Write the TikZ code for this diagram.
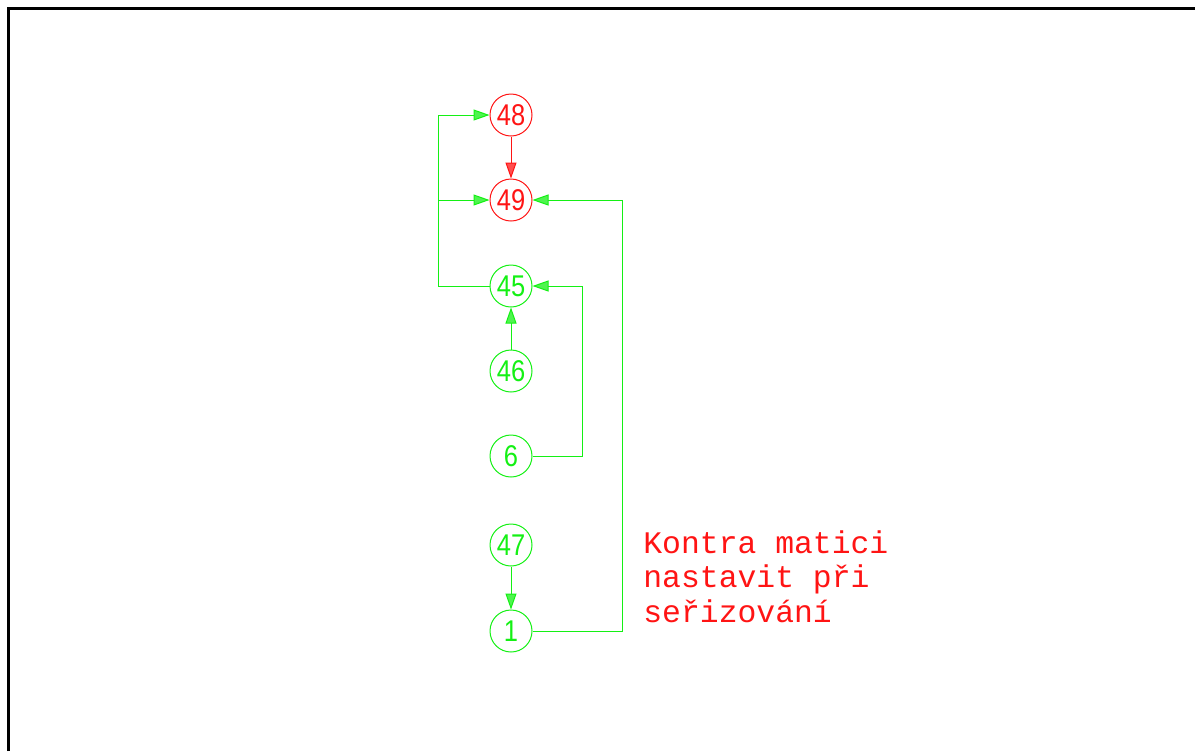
\documentclass[tikz,border=0pt]{standalone}
\usepackage{fontspec}
\setmainfont{Liberation Sans}[FakeStretch=0.85]
\newfontfamily\notefont{Liberation Mono}
\usetikzlibrary{arrows.meta}
\definecolor{cadred}{RGB}{255,20,20}
\definecolor{cadgreen}{RGB}{20,240,20}

\begin{document}
\begin{tikzpicture}[x=0.5pt,y=-0.5pt,
    part/.style={circle,draw,line width=0.5pt,minimum size=21pt,inner sep=0pt,
                 font=\fontsize{15}{16}\selectfont},
    gpart/.style={part,cadgreen,text=cadgreen},
    rpart/.style={part,cadred,text=cadred},
    gline/.style={cadgreen,line width=0.5pt},
    garrow/.style={gline,-{Triangle[length=8pt,width=5.5pt,fill=cadgreen!75]}},
    rarrow/.style={cadred,line width=0.5pt,-{Triangle[length=8pt,width=5.5pt,fill=cadred!75]}}]
    % cadre
    \useasboundingbox (0,0) rectangle (1195,751);
    \draw[line width=1.5pt] (8.5,751) -- (8.5,8.5) -- (1195,8.5);
    % pieces
    \node[rpart] (n48) at (511,115) {48};
    \node[rpart] (n49) at (511,200) {49};
    \node[gpart] (n45) at (511,286) {45};
    \node[gpart] (n46) at (511,371) {46};
    \node[gpart] (n6)  at (511,456) {6};
    \node[gpart] (n47) at (511,545) {47};
    \node[gpart] (n1)  at (511,631) {1};
    \coordinate (lbus) at (438,286);
    \coordinate (mbus) at (582,0);
    \coordinate (rbus) at (622,0);
    % fleches
    \draw[rarrow] (n48) -- (n49);
    \draw[garrow] (n45.west) -- (lbus) |- (n48.west);
    \draw[garrow] (lbus |- n49) -- (n49.west);
    \draw[garrow] (n46) -- (n45);
    \draw[garrow] (n6.east) -| (mbus |- n45) -- (n45.east);
    \draw[garrow] (n47) -- (n1);
    \draw[garrow] (n1.east) -| (rbus |- n49) -- (n49.east);
    % note
    \node[cadred,anchor=base west,align=left,inner sep=0pt,
          font=\notefont\fontsize{15.7}{17.25}\selectfont] (note) at (643,622)
        {Kontra matici\\nastavit při\\seřizování};
\end{tikzpicture}
\end{document}
